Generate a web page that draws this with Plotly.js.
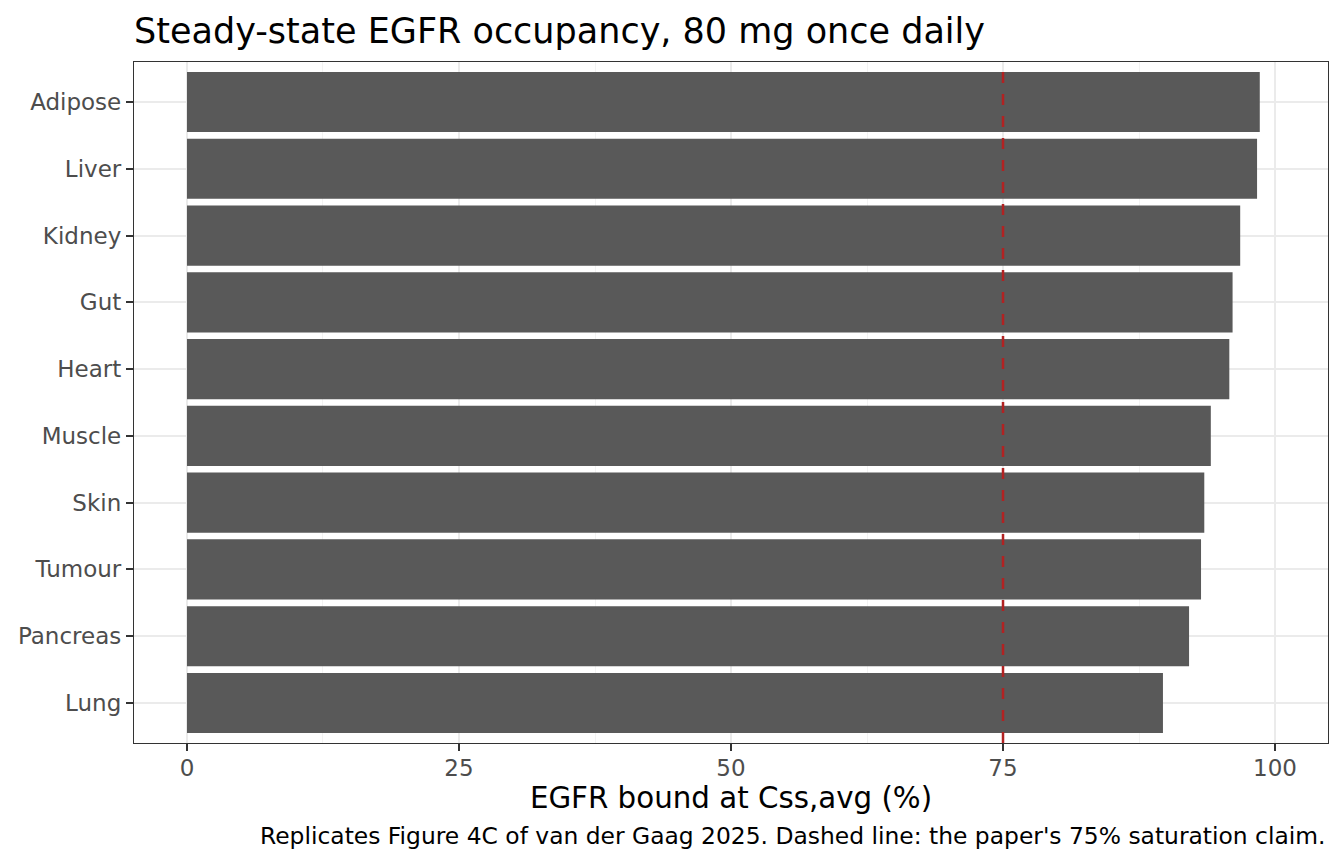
<!DOCTYPE html>
<html>
<head>
<meta charset="utf-8">
<script src="https://cdn.plot.ly/plotly-3.0.1.min.js"></script>
<style>
  body { margin: 0; background: #fff; }
  #chart { width: 1344px; height: 864px; }
</style>
</head>
<body>
<div id="chart"></div>
<script>
// tissues listed bottom to top
let tissues = ['Lung', 'Pancreas', 'Tumour', 'Skin', 'Muscle', 'Heart', 'Gut', 'Kidney', 'Liver', 'Adipose'];
let occupancy = [89.7, 92.1, 93.2, 93.5, 94.1, 95.8, 96.1, 96.8, 98.35, 98.6];
let xTicks = [0, 25, 50, 75, 100];
let saturationClaim = 75;

let font = 'DejaVu Sans, sans-serif';

let data = [{
    type: 'bar',
    orientation: 'h',
    x: occupancy,
    y: tissues,
    width: 0.9,
    marker: { color: '#595959' },
    hoverinfo: 'x+y'
}];

let layout = {
    width: 1344,
    height: 864,
    paper_bgcolor: '#fff',
    plot_bgcolor: '#fff',
    margin: { l: 134, r: 16, t: 62, b: 121 },
    showlegend: false,
    font: { family: font, color: '#4d4d4d' },
    title: {
        text: 'Steady-state EGFR occupancy, 80 mg once daily',
        font: { family: font, size: 35, color: '#000' },
        x: 0,
        xref: 'paper',
        xanchor: 'left',
        y: 1,
        yref: 'paper',
        yanchor: 'bottom',
        pad: { b: 19 }
    },
    xaxis: {
        range: [-4.87, 104.87],
        tickvals: xTicks,
        ticktext: xTicks.map(String),
        tickfont: { family: font, size: 23, color: '#4d4d4d' },
        ticks: 'outside',
        ticklen: 7,
        tickwidth: 1.5,
        tickcolor: '#333',
        ticklabelstandoff: -3,
        showgrid: true,
        gridcolor: '#ebebeb',
        gridwidth: 2,
        minor: { dtick: 12.5, tick0: 12.5, showgrid: true, gridcolor: '#f3f3f3', gridwidth: 1 },
        zeroline: false,
        showline: true,
        linecolor: '#333',
        linewidth: 1.3,
        mirror: true,
        title: {
            text: 'EGFR bound at Css,avg (%)',
            font: { family: font, size: 29.3, color: '#000' },
            standoff: 4
        }
    },
    yaxis: {
        type: 'category',
        categoryorder: 'array',
        categoryarray: tissues,
        range: [-0.6, 9.6],
        tickfont: { family: font, size: 23, color: '#4d4d4d' },
        ticks: 'outside',
        ticklen: 7,
        tickwidth: 1.5,
        tickcolor: '#333',
        showgrid: true,
        gridcolor: '#ebebeb',
        gridwidth: 2,
        zeroline: false,
        showline: true,
        linecolor: '#333',
        linewidth: 1.3,
        mirror: true
    },
    bargap: 0.1,
    shapes: [{
        type: 'line',
        xref: 'x',
        yref: 'paper',
        x0: saturationClaim,
        x1: saturationClaim,
        y0: 0,
        y1: 1,
        line: { color: '#b22222', width: 2.5, dash: '11px,11px' }
    }],
    annotations: [{
        text: "Replicates Figure 4C of van der Gaag 2025. Dashed line: the paper's 75% saturation claim.",
        xref: 'paper',
        yref: 'paper',
        x: 1,
        y: 0,
        xanchor: 'right',
        yanchor: 'top',
        yshift: -77,
        showarrow: false,
        font: { family: font, size: 23.4, color: '#000' }
    }]
};

Plotly.newPlot('chart', data, layout, { displayModeBar: false });
</script>
</body>
</html>
